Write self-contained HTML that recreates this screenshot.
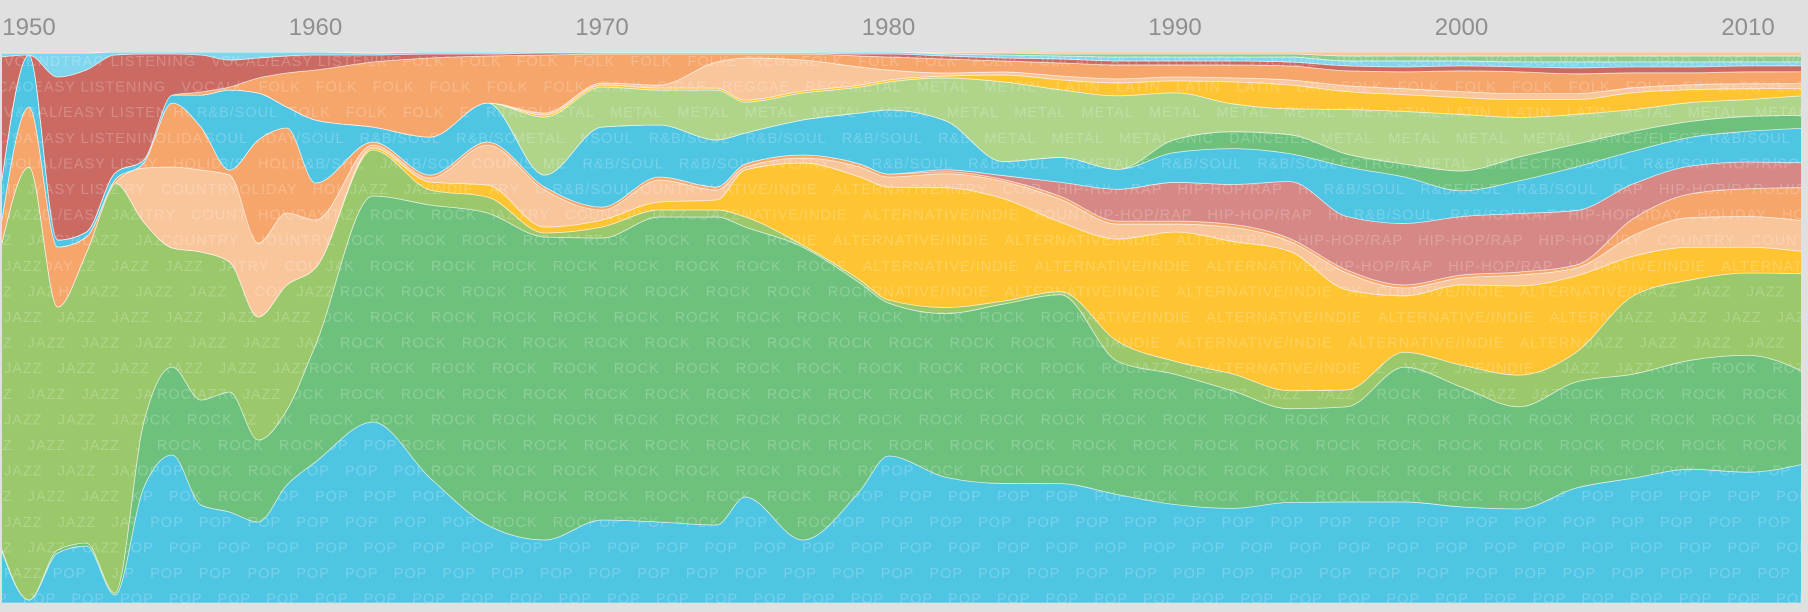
<!DOCTYPE html>
<html>
<head>
<meta charset="utf-8">
<style>
  html,body{margin:0;padding:0;background:#e0e0e0;}
  body{width:1808px;height:612px;overflow:hidden;font-family:"Liberation Sans",sans-serif;}
  svg{display:block;}
  .yr{font-family:"Liberation Sans",sans-serif;font-size:24px;fill:#8f8f8f;text-anchor:middle;}
  .pat{font-family:"Liberation Sans",sans-serif;font-size:14.5px;fill:#ffffff;fill-opacity:0.22;letter-spacing:1px;}
</style>
</head>
<body>
<svg id="chart" width="1808" height="612" viewBox="0 0 1808 612">
  <rect x="0" y="0" width="1808" height="612" fill="#e0e0e0"/>
  <g id="axis"></g>
  <defs id="defs"></defs>
  <g id="layers"></g>
</svg>
<script>
const years = [1949,1950,1951,1952,1953,1954,1955,1956,1957,1958,1959,1960,1962,1964,1966,1968,1970,1972,1974,1975,1977,1979,1980,1982,1984,1986,1988,1990,1992,1994,1996,1998,2000,2002,2004,2006,2008,2010,2012];
const tickYears = [1950,1960,1970,1980,1990,2000,2010];

const popVals = [56,3,50,57,8,115,148,98,91,81,118,141,181,125,78,63,83,81,78,106,63,112,147,126,120,120,109,99,95,101,102,102,97,95,116,126,135,132,141];
const rockVals = [2,0,3,3,2,65,88,105,120,82,75,117,226,273,312,303,282,305,308,270,293,208,153,164,180,190,134,131,118,94,96,136,121,103,107,105,110,118,92];
const jazzVals = [295,433,243,290,410,201,119,148,130,123,125,77,46,15,16,4,11,7,7,10,2,3,3,6,3,3,20,13,17,18,17,15,22,32,30,79,81,83,100];
const altVals = [0,0,0,0,0,0,0,0,0,0,0,0,2,8,12,6,7,8,10,47,82,103,113,120,103,70,103,130,133,140,101,57,81,90,77,40,33,26,22];
const countryVals = [0,0,0,0,0,54,81,82,87,74,72,48,3,4,40,37,10,22,10,3,5,10,10,14,17,23,15,8,14,10,17,8,7,11,8,21,30,31,31];
const holidayVals = [20,60,60,16,3,5,64,43,5,103,85,37,3,3,3,3,3,3,3,3,3,3,3,2,2,3,3,3,3,3,3,3,3,3,3,17,24,28,34];
const hiphopVals = [0,0,0,0,0,0,0,0,0,0,0,0,0,0,0,0,0,0,0,0,0,0,0,2,4,14,32,39,40,57,54,62,59,59,55,35,28,27,25];
const rnbVals = [40,52,7,5,7,3,8,32,80,47,21,63,15,38,39,12,80,52,47,31,35,51,64,49,14,25,20,30,36,28,50,47,26,33,44,33,29,31,35];
const danceVals = [0,0,0,0,0,0,0,0,0,0,0,0,0,0,0,0,0,0,0,0,0,0,0,0,0,0,0,13,17,19,13,13,20,24,23,20,16,15,13];
const metalVals = [0,0,0,0,0,0,0,0,0,0,0,0,0,0,0,58,40,35,50,31,27,26,28,43,80,68,74,47,28,26,45,53,57,40,30,22,19,17,20];
const latinVals = [0,0,0,0,0,0,0,0,0,0,0,0,0,0,0,2,2,2,2,2,2,2,2,2,7,10,13,12,22,24,18,17,17,18,15,17,13,11,7];
const reggaeVals = [0,0,0,0,0,0,0,0,0,0,0,0,0,0,0,2,2,3,26,42,31,18,10,3,3,4,4,4,4,5,6,6,6,6,6,5,5,5,5];
const folkVals = [0,0,0,0,0,0,0,3,3,15,34,50,65,79,47,58,29,31,8,4,6,11,13,14,11,13,14,12,13,14,15,17,21,22,20,15,12,12,12];
const vocalVals = [133,0,163,162,118,106,41,37,27,20,17,15,7,4,2,2,1,1,1,1,1,2,3,3,3,4,4,4,4,4,5,5,5,5,6,6,6,6,6];
const soundtrackVals = [4,2,24,17,3,2,2,3,8,6,4,3,2,2,2,1,1,1,1,1,1,2,2,2,3,3,4,4,4,5,5,6,5,5,6,5,5,4,4];
const worldVals = [0,0,0,0,0,0,0,0,0,0,0,0,0,0,0,0,0,0,0,0,0,0,0,1,2,2,3,3,3,3,5,5,5,6,6,6,6,6,6];
const christianVals = [1,1,1,1,0,0,0,0,0,0,0,0,1,0,0,0,0,0,0,0,0,0,0,1,1,2,2,2,2,2,4,4,4,4,4,4,4,4,4];

const layerNames = ['pop','rock','jazz','alternative-indie','country','holiday','hip-hop-rap','rnb-soul','dance-electronic','metal','latin','reggae','folk','vocal-easy-listening','soundtrack','world','christian-gospel'];
const layerWords = ['POP','ROCK','JAZZ','ALTERNATIVE/INDIE','COUNTRY','HOLIDAY','HIP-HOP/RAP','R&B/SOUL','DANCE/ELECTRONIC','METAL','LATIN','REGGAE','FOLK','VOCAL/EASY LISTENING','SOUNDTRACK','WORLD','CHRISTIAN/GOSPEL'];
const layerColors = ['#4fc5e4','#6dc17d','#9ac86b','#fec431','#f9c69c','#f6a66b','#d68886','#4fc5e4','#6dc17d','#afd58b','#fec431','#f9c69c','#f6a66b','#cb6a63','#80d6ed','#8dcc8e','#f9c69c'];
const layerValues = [popVals,rockVals,jazzVals,altVals,countryVals,holidayVals,hiphopVals,rnbVals,danceVals,metalVals,latinVals,reggaeVals,folkVals,vocalVals,soundtrackVals,worldVals,christianVals];

const NS = 'http://www.w3.org/2000/svg';
const chartTop = 52, chartBottom = 603, chartLeft = 2, chartRight = 1801;
function xScale(yr){ return 29 + (yr - 1950) * 28.65; }

const axis = document.getElementById('axis');
tickYears.forEach(function(t){
  const tx = document.createElementNS(NS,'text');
  tx.setAttribute('class','yr');
  tx.setAttribute('x', xScale(t));
  tx.setAttribute('y', 35);
  tx.textContent = String(t);
  
  
  axis.appendChild(tx);
});

const n = years.length;
const totals = years.map(function(_, i){ let s = 0; layerValues.forEach(function(v){ s += v[i]; }); return s; });
const H = chartBottom - chartTop;
const bounds = [years.map(function(){ return chartBottom; })];
layerValues.forEach(function(vals, k){
  const prev = bounds[k];
  bounds.push(prev.map(function(y, i){ return y - vals[i] / totals[i] * H; }));
});
const xs = years.map(xScale);

function tangents(ys){
  const t = new Array(n).fill(0);
  const s = [];
  for (let i = 0; i < n - 1; i++) s.push((ys[i+1]-ys[i])/(xs[i+1]-xs[i]));
  for (let i = 1; i < n - 1; i++){
    const h0 = xs[i]-xs[i-1], h1 = xs[i+1]-xs[i];
    const s0 = s[i-1], s1 = s[i];
    const p = (s0*h1 + s1*h0)/(h0+h1);
    t[i] = (Math.sign(s0)+Math.sign(s1)) * Math.min(Math.abs(s0), Math.abs(s1), 0.5*Math.abs(p)) || 0;
  }
  t[0] = (3*s[0] - t[1]) / 2;
  t[n-1] = (3*s[n-2] - t[n-2]) / 2;
  return t;
}
function forwardPath(ys){
  const t = tangents(ys);
  let d = '';
  for (let i = 0; i < n - 1; i++){
    const dx = (xs[i+1]-xs[i])/3;
    d += 'C' + (xs[i]+dx).toFixed(2) + ',' + (ys[i]+dx*t[i]).toFixed(2) + ' ' + (xs[i+1]-dx).toFixed(2) + ',' + (ys[i+1]-dx*t[i+1]).toFixed(2) + ' ' + xs[i+1].toFixed(2) + ',' + ys[i+1].toFixed(2);
  }
  return d;
}
function backwardPath(ys){
  const t = tangents(ys);
  let d = '';
  for (let i = n - 1; i > 0; i--){
    const dx = (xs[i]-xs[i-1])/3;
    d += 'C' + (xs[i]-dx).toFixed(2) + ',' + (ys[i]-dx*t[i]).toFixed(2) + ' ' + (xs[i-1]+dx).toFixed(2) + ',' + (ys[i-1]+dx*t[i-1]).toFixed(2) + ' ' + xs[i-1].toFixed(2) + ',' + ys[i-1].toFixed(2);
  }
  return d;
}

const defs = document.getElementById('defs');
const outerClip = document.createElementNS(NS,'clipPath');
outerClip.setAttribute('id','plotclip');
const oc = document.createElementNS(NS,'rect');
oc.setAttribute('x', chartLeft); oc.setAttribute('y', chartTop);
oc.setAttribute('width', chartRight - chartLeft); oc.setAttribute('height', chartBottom - chartTop);
outerClip.appendChild(oc);
defs.appendChild(outerClip);

const layersG = document.getElementById('layers');
layersG.setAttribute('clip-path','url(#plotclip)');

layerValues.forEach(function(vals, k){
  const upper = bounds[k+1], lower = bounds[k];
  const d = 'M' + xs[0].toFixed(2) + ',' + upper[0].toFixed(2) + forwardPath(upper) +
            'L' + xs[n-1].toFixed(2) + ',' + lower[n-1].toFixed(2) + backwardPath(lower) + 'Z';
  const cp = document.createElementNS(NS,'clipPath');
  cp.setAttribute('id','clip-' + k);
  const cpp = document.createElementNS(NS,'path');
  cpp.setAttribute('d', d);
  cp.appendChild(cpp);
  defs.appendChild(cp);

  const g = document.createElementNS(NS,'g');
  
  
  const p = document.createElementNS(NS,'path');
  p.setAttribute('d', d);
  p.setAttribute('fill', layerColors[k]);
  p.setAttribute('stroke', '#ffffff');
  p.setAttribute('stroke-opacity', '0.6');
  p.setAttribute('stroke-width', '0.8');
  
  
  g.appendChild(p);

  const tg = document.createElementNS(NS,'g');
  tg.setAttribute('clip-path','url(#clip-' + k + ')');
  
  
  const word = layerWords[k];
  const rep = Math.ceil(1900 / ((word.length + 2) * 9)) + 2;
  const str = new Array(rep).fill(word).join('\u00a0\u00a0\u00a0');
  for (let r = 0; r < 23; r++){
    const yy = 66 + r * 25.6;
    const t = document.createElementNS(NS,'text');
    t.setAttribute('class','pat');
    t.setAttribute('x', (r % 2 ? -26 : 4));
    t.setAttribute('y', yy.toFixed(1));
    t.textContent = str;
    tg.appendChild(t);
  }
  g.appendChild(tg);
  layersG.appendChild(g);
});
</script>
</body>
</html>
